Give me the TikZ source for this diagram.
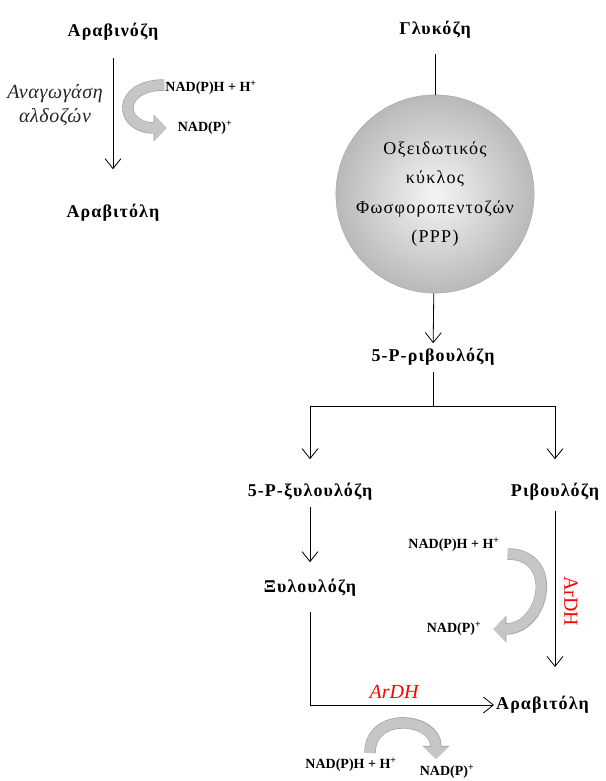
\documentclass[tikz,border=0pt]{standalone}
\usepackage{fontspec}
\setmainfont{Liberation Serif}
\usetikzlibrary{arrows.meta,calc}

\begin{document}
\begin{tikzpicture}[x=1pt,y=-1pt]
\tikzstyle{lbl}=[font=\fontsize{18}{20}\selectfont\bfseries\addfontfeatures{LetterSpace=6}, inner sep=2pt]
\tikzstyle{nad}=[font=\fontsize{14}{16}\selectfont\bfseries, inner sep=1pt]
\tikzstyle{enz}=[font=\fontsize{20}{24}\selectfont\itshape\addfontfeatures{LetterSpace=3}, text=black!85, align=center]
\tikzstyle{enzred}=[font=\fontsize{20}{22}\selectfont, text=red]
\tikzstyle{arr}=[draw, line width=0.8pt, -{Straight Barb[length=10pt,width=16pt]}]
\tikzstyle{fat}=[line width=10pt, gray!45, -{Triangle[length=12pt,width=24pt]},
  preaction={draw, line width=11.5pt, gray!70, -{Triangle[length=13pt,width=26pt]}}]
\tikzstyle{ppp}=[circle, minimum size=186pt, draw=gray!70, inner color=gray!8,
  outer color=gray!55, font=\fontsize{18}{29.5}\selectfont\addfontfeatures{LetterSpace=7}, align=center]
\useasboundingbox (0,0) rectangle (605,781);
% left branch
\node[lbl] (arabinose) at (113,32) {Αραβινόζη};
\node[lbl] (arabitol1) at (113,213) {Αραβιτόλη};
\draw[arr, shorten <=15pt, shorten >=33pt] (arabinose) -- (arabitol1);
\node[enz] (aldred) at (55,105) {Αναγωγάση\\αλδοζών};
\node[nad] (nadh1) at (211,88) {NAD(P)H + H\textsuperscript{+}};
\node[nad] (nadp1) at (205,128) {NAD(P)\textsuperscript{+}};
\draw[fat] ([yshift=3pt]nadh1.west) .. controls +(-48,0) and +(-48,0) .. ([xshift=-10pt]nadp1.west);
% right branch
\node[lbl] (glucose) at (435,30) {Γλυκόζη};
\node[ppp] (ppp) at (435,194) {Οξειδωτικός\\κύκλος\\Φωσφοροπεντοζών\\(PPP)};
\draw[line width=0.8pt, shorten <=13pt] (glucose) -- (ppp);
\node[lbl] (rib5p) at (433,357) {5-P-ριβουλόζη};
\draw[arr, shorten >=3pt] (ppp) -- (rib5p);
\coordinate (split) at (433,406);
\node[lbl] (xyl5p) at (310,492) {5-P-ξυλουλόζη};
\node[lbl] (ribulose) at (555,492) {Ριβουλόζη};
\draw[line width=0.8pt, shorten <=4pt] (rib5p) -- (split);
\draw[arr, shorten >=22pt] (split) -| (xyl5p);
\draw[arr, shorten >=22pt] (split) -| (ribulose);
\node[lbl] (xylulose) at (310,588) {Ξυλουλόζη};
\draw[arr, shorten <=4pt, shorten >=15pt] (xyl5p) -- (xylulose);
\node[lbl, anchor=west] (arabitol2) at (494,705) {Αραβιτόλη};
\draw[arr, shorten <=13pt] (xylulose) |- (arabitol2);
\draw[arr, shorten <=8pt, shorten >=38pt] (ribulose) -- (ribulose |- arabitol2);
\node[enzred, font=\fontsize{20}{22}\selectfont\itshape] (ardh1) at (394,692) {ArDH};
\node[enzred, rotate=-90] (ardh2) at (571,601) {ArDH};
\node[nad] (nadh2) at (454,545) {NAD(P)H + H\textsuperscript{+}};
\node[nad] (nadp2) at (454,629) {NAD(P)\textsuperscript{+}};
\draw[fat] ([xshift=7pt,yshift=-9pt]nadh2.east) .. controls +(52,0) and +(52,0) .. ([xshift=11pt]nadp2.east);
\node[nad] (nadh3) at (351,765) {NAD(P)H + H\textsuperscript{+}};
\node[nad] (nadp3) at (447,772) {NAD(P)\textsuperscript{+}};
\draw[fat] ([xshift=19pt,yshift=4pt]nadh3.north) .. controls +(0,-42) and +(0,-42) .. ([xshift=-11pt,yshift=5pt]nadp3.north);
\end{tikzpicture}
\end{document}
